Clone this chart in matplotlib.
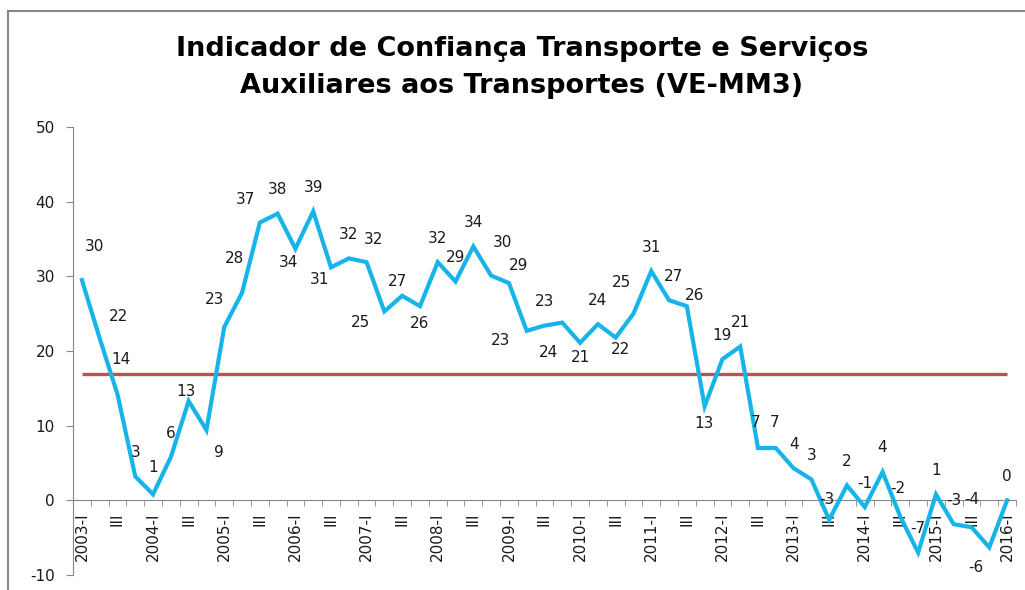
import numpy as np
import matplotlib
matplotlib.use("Agg")
import matplotlib.pyplot as plt
from matplotlib.patches import Rectangle

plt.rcParams["axes.unicode_minus"] = False

# quarterly index 2003-I .. 2016-I
valores = [29.5, 21.7, 14.2, 3.2, 0.8, 5.8, 13.3, 9.4,
           23.2, 27.8, 37.2, 38.4, 33.7, 38.7, 31.2, 32.4,
           31.9, 25.3, 27.4, 26.0, 31.9, 29.3, 34.0, 30.1,
           29.1, 22.7, 23.4, 23.8, 21.1, 23.6, 21.8, 25.0,
           30.7, 26.8, 26.0, 12.6, 18.9, 20.6, 7.0, 7.0,
           4.3, 2.8, -2.6, 2.0, -0.9, 3.8, -2.2, -7.0,
           0.8, -3.2, -3.6, -6.3, 0.0]
media = 16.9
anos = list(range(2003, 2017))
trimestres = ["I", "II", "III", "IV"]

rotulos = []
for a in anos:
    for t in trimestres:
        rotulos.append(f"{a}-{t}")
rotulos = rotulos[:len(valores)]
# only every second quarter is labelled, "III" without the year
tick_labels = [r if r.endswith("-I") else "III" for r in rotulos[::2]]

# label offsets in pixels (dx, dy with y up); default above the point
offsets = {0: (13, 34), 1: (19, 22), 2: (3, 35), 4: (0, 27), 6: (-3, 10),
           7: (12, -22), 8: (-10, 28), 9: (-8, 34), 10: (-14, 23), 12: (-7, -14),
           14: (-11, -12), 16: (7, 23), 17: (-24, -11), 18: (-5, 14), 19: (0, -17),
           23: (11, 33), 24: (10, 18), 25: (-26, -10), 27: (-14, -30), 28: (0, -15),
           30: (5, -12), 31: (-12, 31), 33: (4, 24), 34: (8, 11), 35: (-1, -17),
           38: (-2, 26), 39: (-1, 26), 42: (-2, 20), 46: (-3, 28), 50: (0, 28),
           51: (-13, -20)}

azul = "#17B4EA"
vermelho = "#C0504D"
cinza = "#868686"

fig = plt.figure(figsize=(10.25, 5.9), dpi=100)
ax = fig.add_axes([73 / 1025, 1 - 575 / 590, (1016 - 73) / 1025, (575 - 127) / 590])

x = np.arange(len(valores))
ax.plot(x, [media] * len(x), color=vermelho, lw=2.4, solid_capstyle="butt", zorder=2)
ax.plot(x, valores, color=azul, lw=3.0, solid_joinstyle="miter", zorder=3)

for i, v in enumerate(valores):
    dx, dy = offsets.get(i, (0, 24))
    ax.annotate(f"{v:.0f}", (i, v), xytext=(dx, dy), textcoords="offset pixels",
                ha="center", va="center", fontsize=11, color="#1a1a1a", zorder=4)

ax.set_xlim(-0.5, len(valores) - 0.5)
ax.set_ylim(-10, 50)
ax.set_yticks(range(-10, 51, 10))
ax.set_xticks(x[::2])
ax.set_xticklabels(tick_labels)
ax.set_xticks(np.arange(-0.5, len(valores), 1), minor=True)

for s in ["top", "right"]:
    ax.spines[s].set_visible(False)
ax.spines["bottom"].set_position(("data", 0))
ax.spines["bottom"].set_color(cinza)
ax.spines["left"].set_color(cinza)
ax.tick_params(axis="x", which="major", length=0, pad=9, labelsize=11,
               labelcolor="#1a1a1a", labelrotation=90)
ax.tick_params(axis="x", which="minor", length=4, color=cinza)
ax.tick_params(axis="y", length=5, color=cinza, pad=8, labelsize=11, labelcolor="#1a1a1a")

fig.text(0.509, 0.886, "Indicador de Confiança Transporte e Serviços\nAuxiliares aos Transportes (VE-MM3)",
         ha="center", va="center", fontsize=19.5, fontweight="bold", linespacing=1.55)

# chart area border
fig.patches.append(Rectangle((8 / 1025, -0.1), 1.2, 1 - 11 / 590 + 0.1, transform=fig.transFigure,
                             fill=False, edgecolor=cinza, lw=1.5))

fig.savefig("out.png", dpi=100)
